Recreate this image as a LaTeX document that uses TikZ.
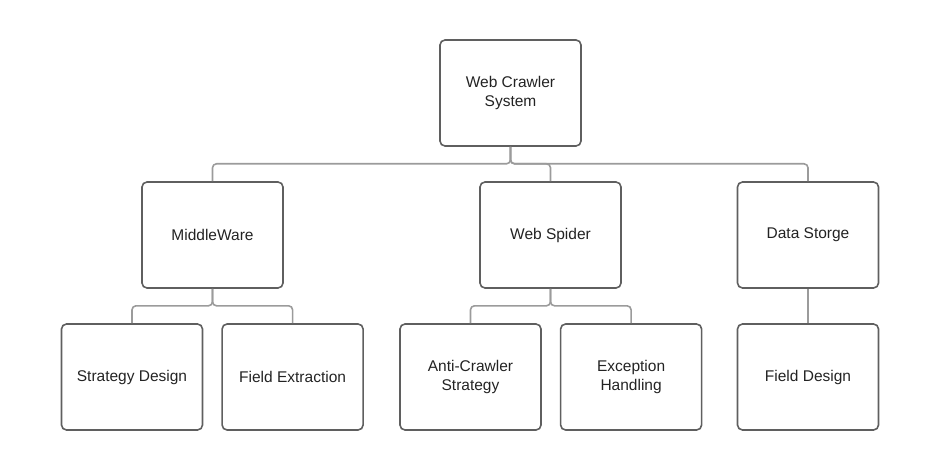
\documentclass[tikz,border=0pt]{standalone}
\usepackage{fontspec}
\setmainfont{Liberation Sans}
\usetikzlibrary{positioning}
\definecolor{edge}{RGB}{95,95,95}
\definecolor{wire}{RGB}{155,155,155}
\definecolor{ink}{RGB}{35,35,35}
\tikzset{
  box/.style={draw=edge,line width=1.6pt,rounded corners=5pt,minimum width=141pt,minimum height=106pt,align=center,text=ink,font=\fontsize{15.5}{19}\selectfont},
  link/.style={draw=wire,line width=1.6pt,rounded corners=4pt},
}

\begin{document}
\begin{tikzpicture}[x=1pt,y=1pt,node distance=18pt]
  \useasboundingbox (0,0) rectangle (941,-470);
  \node[box] (root) at (510.5,-93) {Web Crawler\\System};
  \node[box] (mid) at (212.5,-235) {MiddleWare};
  \node[box] (spider) at (550.5,-235) {Web Spider};
  \node[box] (store) at (808,-235) {Data Storge};
  \node[box] (strat) at (132,-377) {Strategy Design};
  \node[box,right=of strat] (extr) {Field Extraction};
  \node[box] (anti) at (470.5,-377) {Anti-Crawler\\Strategy};
  \node[box,right=of anti] (exc) {Exception\\Handling};
  \node[box] (fdes) at (808,-377) {Field Design};
  \draw[link] (root.south) -- ++(0,-17) -| (mid.north);
  \draw[link] (root.south) -- ++(0,-17) -| (spider.north);
  \draw[link] (root.south) -- ++(0,-17) -| (store.north);
  \draw[link] (mid.south) -- ++(0,-17) -| (strat.north);
  \draw[link] (mid.south) -- ++(0,-17) -| (extr.north);
  \draw[link] (spider.south) -- ++(0,-17) -| (anti.north);
  \draw[link] (spider.south) -- ++(0,-17) -| (exc.north);
  \draw[link] (store.south) -- (fdes.north);
\end{tikzpicture}
\end{document}
